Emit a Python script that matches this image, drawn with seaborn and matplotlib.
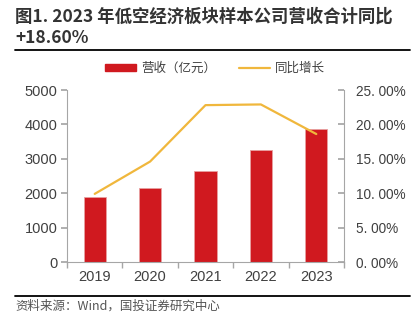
import matplotlib
matplotlib.use("Agg")
import matplotlib.pyplot as plt
import seaborn as sns
import pandas as pd
import numpy as np
from matplotlib.lines import Line2D
from matplotlib.patches import Patch

years = ["2019", "2020", "2021", "2022", "2023"]
revenue = [1880, 2160, 2645, 3265, 3866]
yoy = [9.9, 14.6, 22.8, 22.9, 18.6]
left_ticks = [0, 1000, 2000, 3000, 4000, 5000]
right_ticks = [0, 5, 10, 15, 20, 25]

sns.set_theme(style="white")
plt.rcParams['font.family'] = ['Noto Sans CJK SC', 'DejaVu Sans']

W, H = 417, 324
fig = plt.figure(figsize=(W / 100, H / 100), dpi=100)
ax = fig.add_axes([67 / W, 1 - 262 / H, (344 - 67) / W, (262 - 90) / H])

df = pd.DataFrame({"year": years, "revenue": revenue, "yoy": yoy})
red = "#D0191F"
orange = "#F0B73C"
gray = "#A6A6A6"
txt = "#404040"

sns.barplot(data=df, x="year", y="revenue", color=red, width=0.4, ax=ax,
            saturation=1, edgecolor="#E8A0A0", linewidth=0.6)
ax.set_xlim(-0.5, 4.5)
ax.set_ylim(0, 5000)
ax.set_yticks(left_ticks)
ax.set_yticklabels([str(v) for v in left_ticks], fontsize=10.5, color=txt,
                   family=['Liberation Sans'])
ax.set_xticks(range(len(years)))
ax.set_xticklabels(years, fontsize=10.5, color=txt, family=['Liberation Sans'])
ax.set_xticks(np.arange(-0.5, 5, 1), minor=True)
ax.tick_params(axis="x", which="major", length=0, pad=6)
ax.tick_params(axis="x", which="minor", length=4, color=gray, direction="out", bottom=True)
ax.tick_params(axis="y", length=4, color=gray, direction="out", left=True, pad=3)
ax.set_xlabel("")
ax.set_ylabel("")
for s in ["top", "right"]:
    ax.spines[s].set_visible(False)
for s in ["left", "bottom"]:
    ax.spines[s].set_color(gray)
    ax.spines[s].set_linewidth(0.8)

ax2 = ax.twinx()
sns.lineplot(x=np.arange(len(years)), y=yoy, ax=ax2, color=orange, linewidth=1.6)
ax2.set_ylim(0, 25)
ax2.set_yticks(right_ticks)
ax2.set_yticklabels([f"{v:.2f}%".replace(".", ". ") for v in right_ticks],
                    fontsize=9.8, color=txt, family=['Liberation Sans'])
ax2.tick_params(axis="y", length=4, color=gray, direction="in", right=True, pad=9)
ax2.set_ylabel("")
ax2.spines["top"].set_visible(False)
ax2.spines["left"].set_visible(False)
ax2.spines["bottom"].set_visible(False)
ax2.spines["right"].set_color(gray)
ax2.spines["right"].set_linewidth(0.8)
ax2.set_xlim(-0.5, 4.5)

handles = [Patch(facecolor=red, edgecolor=red), Line2D([0], [0], color=orange, lw=1.6)]
fig.legend(handles, ["营收（亿元）", "同比增长"], loc="center",
           bbox_to_anchor=(215 / W, 1 - 68 / H), ncol=2, frameon=False,
           fontsize=9, handlelength=2.5, handleheight=0.5, columnspacing=1.8,
           labelcolor=txt, handletextpad=0.4)

fig.text(15 / W, 1 - 17 / H, "图1. 2023 年低空经济板块样本公司营收合计同比",
         fontsize=12.5, fontweight="bold", color="#333333", va="center", ha="left")
fig.text(15 / W, 1 - 38 / H, "+18.60%", fontsize=12.5, fontweight="bold",
         color="#333333", va="center", ha="left")
fig.add_artist(Line2D([15 / W, 410 / W], [1 - 50 / H, 1 - 50 / H], color="black", lw=1.3))
fig.add_artist(Line2D([15 / W, 410 / W], [1 - 296 / H, 1 - 296 / H], color="black", lw=1.3))
fig.text(15 / W, 1 - 306 / H, "资料来源：Wind，国投证券研究中心", fontsize=9,
         style="italic", color="#555555", va="center", ha="left")

fig.savefig("out.png", dpi=100)
